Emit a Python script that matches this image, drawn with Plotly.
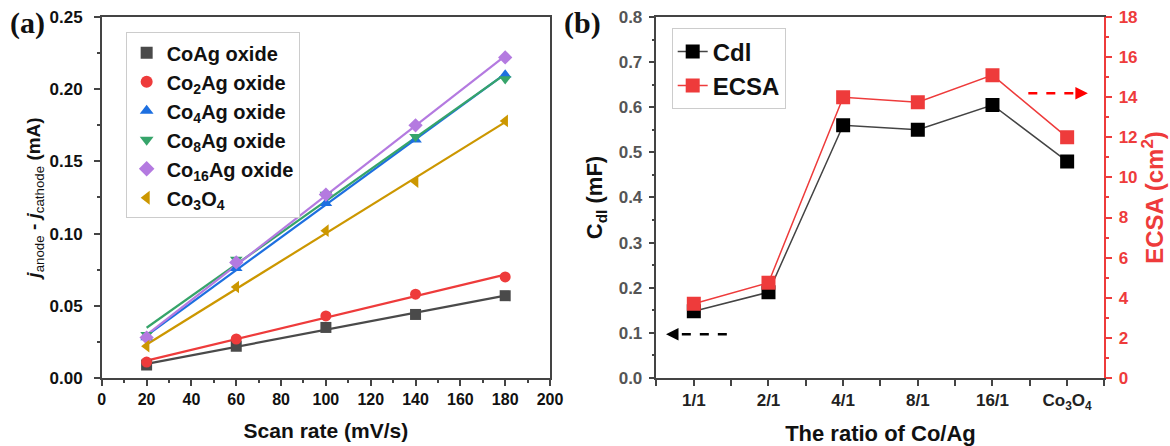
import numpy as np
import plotly.graph_objects as go

# ---------------- data ----------------
scan_rate = [20, 60, 100, 140, 180]
series_names = ["CoAg oxide", "Co<sub>2</sub>Ag oxide", "Co<sub>4</sub>Ag oxide",
                "Co<sub>8</sub>Ag oxide", "Co<sub>16</sub>Ag oxide", "Co<sub>3</sub>O<sub>4</sub>"]
coag = [0.009, 0.022, 0.035, 0.044, 0.057]
co2ag = [0.011, 0.027, 0.043, 0.058, 0.070]
co4ag = [0.028, 0.076, 0.121, 0.165, 0.210]
co8ag = [0.030, 0.082, 0.127, 0.167, 0.207]
co16ag = [0.028, 0.080, 0.127, 0.175, 0.222]
co3o4 = [0.022, 0.063, 0.102, 0.136, 0.178]

ratio_categories = ["1/1", "2/1", "4/1", "8/1", "16/1", "Co<sub>3</sub>O<sub>4</sub>"]
cdl = [0.148, 0.190, 0.560, 0.550, 0.605, 0.480]
ecsa = [3.70, 4.75, 14.0, 13.75, 15.1, 12.0]

# ---------------- style ----------------
series_values = [coag, co2ag, co4ag, co8ag, co16ag, co3o4]
colors = ["#4a4a4a", "#ee3b3b", "#1d6fe0", "#36a46a", "#b47ae0", "#cc9700"]
symbols = ["square", "circle", "triangle-up", "triangle-down", "diamond", "triangle-left"]
FONT = "Liberation Sans"
AX = "#444444"
RED = "#ee3b3b"


def bold(s):
    return f"<b>{s}</b>"


fig = go.Figure()

# panel (a)
for name, vals, c, s in zip(series_names, series_values, colors, symbols):
    k, b = np.polyfit(scan_rate, vals, 1)
    xf = [scan_rate[0], scan_rate[-1]]
    fig.add_trace(go.Scatter(x=xf, y=[k * xv + b for xv in xf], mode="lines",
                             line=dict(color=c, width=2.2), showlegend=False,
                             hoverinfo="skip", xaxis="x", yaxis="y"))
for i, (name, vals, c, s) in enumerate(zip(series_names, series_values, colors, symbols)):
    fig.add_trace(go.Scatter(x=scan_rate, y=vals, mode="markers", name=bold(name),
                             marker=dict(symbol=s, color=c, size=11, line=dict(width=0)),
                             legend="legend", legendgroup=f"g{i}", xaxis="x", yaxis="y"))

# panel (b)
xi = list(range(len(ratio_categories)))
fig.add_trace(go.Scatter(x=xi, y=cdl, mode="lines+markers", name=bold("Cdl"),
                         line=dict(color="#444444", width=1.5),
                         marker=dict(symbol="square", color="#000000", size=14),
                         legend="legend2", xaxis="x2", yaxis="y2"))
fig.add_trace(go.Scatter(x=xi, y=ecsa, mode="lines+markers", name=bold("ECSA"),
                         line=dict(color=RED, width=1.5),
                         marker=dict(symbol="square", color=RED, size=14),
                         legend="legend2", xaxis="x2", yaxis="y3"))

common = dict(showline=True, linewidth=1.5, linecolor=AX, ticks="outside", ticklen=6,
              tickwidth=1.5, tickcolor=AX, showgrid=False, zeroline=False, automargin=False)
bp = dict(tickprefix="<b>", ticksuffix="</b>")

fig.update_layout(
    width=1170, height=446, margin=dict(l=0, r=0, t=0, b=0, autoexpand=False),
    plot_bgcolor="white", paper_bgcolor="white",
    font=dict(family=FONT, color="#111111"),
    xaxis=dict(domain=[0.0870, 0.4701], range=[0, 200], dtick=20, mirror=True,
               minor=dict(dtick=10, ticklen=3, tickcolor=AX, ticks="outside"),
               tickfont=dict(family=FONT, size=16, color="#111111"),
               title=dict(text="<b>Scan rate (mV/s)</b>", font=dict(family=FONT, size=21), standoff=16),
               anchor="y", **common, **bp),
    yaxis=dict(domain=[0.1525, 0.9619], range=[0, 0.25], dtick=0.05, tickformat=".2f", mirror=True,
               minor=dict(dtick=0.025, ticklen=3, tickcolor=AX, ticks="outside"),
               tickfont=dict(family=FONT, size=17, color="#111111"), ticklabelstandoff=8,
               title=dict(text="<b><i>j</i></b><sub>anode</sub><b> - <i>j</i></b><sub>cathode</sub><b> (mA)</b>",
                          font=dict(family=FONT, size=19), standoff=4),
               anchor="x", **common, **bp),
    xaxis2=dict(domain=[0.5611, 0.9440], range=[-0.5, 5.5], tickmode="array", tickvals=xi,
                ticktext=[bold(t) for t in ratio_categories], mirror=True,
                minor=dict(tick0=0.5, dtick=1, ticklen=6, tickcolor=AX, ticks="outside"),
                tickfont=dict(family=FONT, size=17, color="#222222"),
                title=dict(text="<b>The ratio of Co/Ag</b>", font=dict(family=FONT, size=22), standoff=16),
                anchor="y2", **common),
    yaxis2=dict(domain=[0.1525, 0.9619], range=[0, 0.8], dtick=0.1, tickformat=".1f",
                minor=dict(dtick=0.05, ticklen=3, tickcolor=AX, ticks="outside"),
                tickfont=dict(family=FONT, size=17, color="#555555"), ticklabelstandoff=3,
                title=dict(text="<b>C<sub>dl</sub> (mF)</b>", font=dict(family=FONT, size=22), standoff=10),
                anchor="x2", **common, **bp),
    yaxis3=dict(range=[0, 18], dtick=2, overlaying="y2", side="right", anchor="x2",
                showline=True, linewidth=1.5, linecolor=RED, ticks="outside", ticklen=6,
                tickwidth=1.5, tickcolor=RED, showgrid=False, zeroline=False, automargin=False,
                minor=dict(dtick=1, ticklen=3, tickcolor=RED, ticks="outside"),
                tickfont=dict(family=FONT, size=17, color=RED), ticklabelstandoff=3,
                title=dict(text="<b>ECSA (cm<sup>2</sup>)</b>", font=dict(family=FONT, size=24, color=RED),
                           standoff=6), **bp),
    legend=dict(x=0.1074, y=0.9276, xanchor="left", yanchor="top", bgcolor="white",
                bordercolor="#cccccc", borderwidth=1, tracegroupgap=0,
                font=dict(family=FONT, size=20, color="#111111"),
                itemsizing="constant"),
    legend2=dict(x=0.5741, y=0.9365, xanchor="left", yanchor="top", bgcolor="white",
                 bordercolor="#cccccc", borderwidth=1, tracegroupgap=0,
                 font=dict(family=FONT, size=24, color="#111111"),
                 itemwidth=30),
)

# panel labels
fig.add_annotation(text="<b>(a)</b>", xref="paper", yref="paper", x=0.0068, y=0.992,
                   xanchor="left", yanchor="top", showarrow=False,
                   font=dict(family="Liberation Serif", size=30, color="#111111"))
fig.add_annotation(text="<b>(b)</b>", xref="paper", yref="paper", x=0.4803, y=0.992,
                   xanchor="left", yanchor="top", showarrow=False,
                   font=dict(family="Liberation Serif", size=30, color="#111111"))

# dashed arrows
fig.add_shape(type="line", xref="x2 domain", yref="y2", x0=0.157, x1=0.040, y0=0.097, y1=0.097,
              line=dict(color="#000000", width=2.5, dash="dash"))
fig.add_annotation(xref="x2 domain", yref="y2", x=0.0212, y=0.097, ax=12, ay=0, text="",
                   showarrow=True, arrowhead=2, arrowsize=1, arrowwidth=2.5, arrowcolor="#000000")
fig.add_shape(type="line", xref="x2 domain", yref="y3", x0=0.830, x1=0.945, y0=14.2, y1=14.2,
              line=dict(color="#ff0000", width=2.5, dash="dash"))
fig.add_annotation(xref="x2 domain", yref="y3", x=0.963, y=14.2, ax=-12, ay=0, text="",
                   showarrow=True, arrowhead=2, arrowsize=1, arrowwidth=2.5, arrowcolor="#ff0000")

fig.write_html("out.html")
